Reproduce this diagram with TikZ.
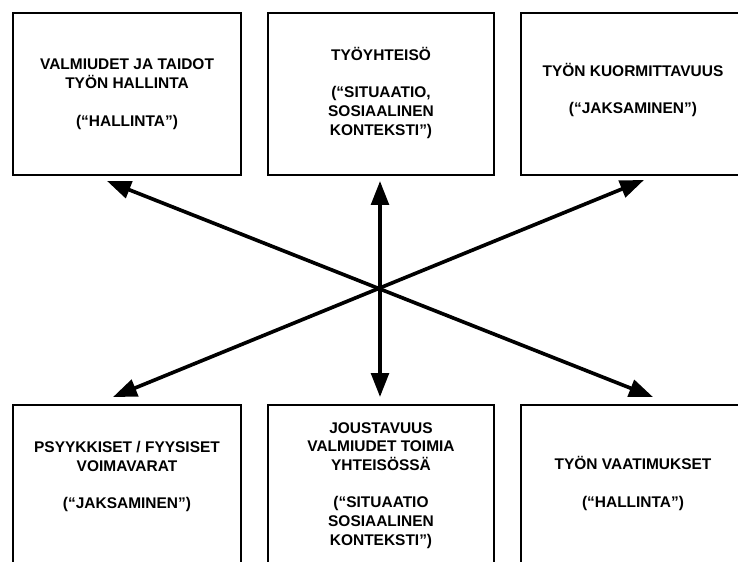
\documentclass[tikz,border=0pt]{standalone}
\usepackage{fontspec}
\setmainfont{Liberation Sans}
\usetikzlibrary{arrows.meta,positioning}
\tikzset{
  box/.style={draw, line width=1.4pt, anchor=north west, inner sep=0pt},
  lbl/.style={align=center, inner sep=0pt, font=\fontsize{11}{13.3}\selectfont\bfseries},
  arrow/.style={{Triangle[length=17pt,width=12.5pt]}-{Triangle[length=17pt,width=12.5pt]}, line width=2.6pt},
}

\begin{document}
\begin{tikzpicture}[x=0.025cm, y=-0.025cm]
  \path[use as bounding box, clip] (0,0) rectangle (738,561);

  % top row
  \node[box, minimum width=5.7cm, minimum height=4.05cm] (b1) at (12,12) {};
  \node[box, minimum width=5.65cm, minimum height=4.05cm] (b2) at (267,12) {};
  \node[box, minimum width=5.6cm, minimum height=4.05cm] (b3) at (520,12) {};

  % bottom row
  \node[box, minimum width=5.7cm, minimum height=4.4cm] (b4) at (12,404) {};
  \node[box, minimum width=5.65cm, minimum height=4.4cm] (b5) at (267,404) {};
  \node[box, minimum width=5.6cm, minimum height=4.4cm] (b6) at (520,404) {};

  % texts
  \node[lbl, below=1.17cm of b1.north] (t1) {VALMIUDET JA TAIDOT\\TYÖN HALLINTA\\[13.3pt](“HALLINTA”)};
  \node[lbl, below=0.875cm of b2.north] (t2) {TYÖYHTEISÖ\\[13.3pt](“SITUAATIO,\\SOSIAALINEN\\KONTEKSTI”)};
  \node[lbl, below=1.275cm of b3.north] (t3) {TYÖN KUORMITTAVUUS\\[13.3pt](“JAKSAMINEN”)};
  \node[lbl, below=0.925cm of b4.north] (t4) {PSYYKKISET / FYYSISET\\VOIMAVARAT\\[13.3pt](“JAKSAMINEN”)};
  \node[lbl, below=0.45cm of b5.north] (t5) {JOUSTAVUUS\\VALMIUDET TOIMIA\\YHTEISÖSSÄ\\[13.3pt](“SITUAATIO\\SOSIAALINEN\\KONTEKSTI”)};
  \node[lbl, below=1.31cm of b6.north] (t6) {TYÖN VAATIMUKSET\\[13.3pt](“HALLINTA”)};

  % arrow tips
  \coordinate (tipA) at (107,181);
  \coordinate (tipB) at (380,181);
  \coordinate (tipC) at (644,180);
  \coordinate (tipD) at (113,397);
  \coordinate (tipE) at (380,397);
  \coordinate (tipF) at (653,397);

  \draw[arrow] (tipA) -- (tipF);
  \draw[arrow] (tipB) -- (tipE);
  \draw[arrow] (tipC) -- (tipD);
\end{tikzpicture}
\end{document}
